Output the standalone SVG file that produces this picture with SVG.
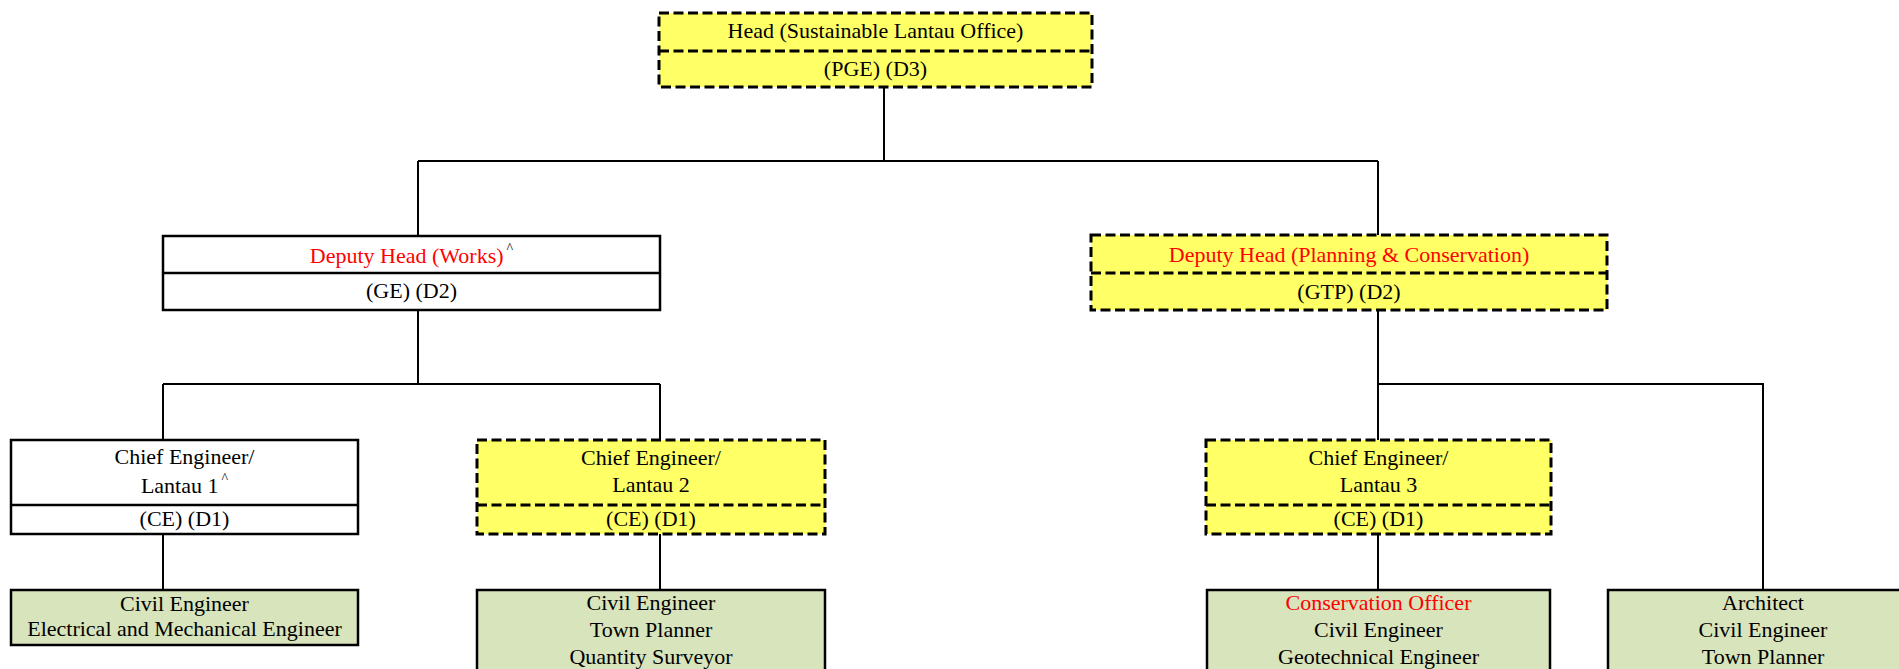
<svg xmlns="http://www.w3.org/2000/svg" width="1899" height="669" viewBox="0 0 1899 669">
<style>
  text { font-family: "Liberation Serif", "Times New Roman", serif; font-size: 22px; fill: #000; text-anchor: middle; }
  .red { fill: #FF0000; }
  .dash { fill: #FFFF66; stroke: #000; stroke-width: 3; stroke-dasharray: 10 4.5; }
  .dline { fill: none; stroke: #000; stroke-width: 3; stroke-dasharray: 10 4.5; }
  .solid { fill: #FFFFFF; stroke: #000; stroke-width: 2.5; }
  .sline { fill: none; stroke: #000; stroke-width: 2.5; }
  .green { fill: #D8E4BC; stroke: #000; stroke-width: 2.5; }
  .conn { fill: none; stroke: #000; stroke-width: 2; }
  .sup { font-size: 14px; }
</style>
<rect x="0" y="0" width="1899" height="669" fill="#FFFFFF"/>
<g id="connectors">
  <path class="conn" d="M884,87 V161 M418,161 H1378 M418,161 V236 M1378,161 V235"/>
  <path class="conn" d="M418,310 V384 M163,384 H660 M163,384 V440 M660,384 V440"/>
  <path class="conn" d="M163,534 V590 M660,534 V590"/>
  <path class="conn" d="M1378,310 V440 M1378,384 H1763 V590 M1378,534 V590"/>
</g>
<g id="head">
  <rect class="dash" x="659" y="13" width="433" height="74"/>
  <line class="dline" x1="659" y1="51" x2="1092" y2="51"/>
  <text x="875.5" y="38">Head (Sustainable Lantau Office)</text>
  <text x="875.5" y="76">(PGE) (D3)</text>
</g>
<g id="deputy-works">
  <rect class="solid" x="163" y="236" width="497" height="74"/>
  <line class="sline" x1="163" y1="273" x2="660" y2="273"/>
  <text x="411.5" y="263"><tspan class="red">Deputy Head (Works)</tspan><tspan class="sup" dx="3" dy="-10">^</tspan></text>
  <text x="411.5" y="298">(GE) (D2)</text>
</g>
<g id="deputy-planning">
  <rect class="dash" x="1091" y="235" width="516" height="75"/>
  <line class="dline" x1="1091" y1="273" x2="1607" y2="273"/>
  <text class="red" x="1349" y="262">Deputy Head (Planning &amp; Conservation)</text>
  <text x="1349" y="299">(GTP) (D2)</text>
</g>
<g id="ce-lantau1">
  <rect class="solid" x="11" y="440" width="347" height="94"/>
  <line class="sline" x1="11" y1="505" x2="358" y2="505"/>
  <text x="184.5" y="464">Chief Engineer/</text>
  <text x="184.5" y="493"><tspan>Lantau 1</tspan><tspan class="sup" dx="3" dy="-10">^</tspan></text>
  <text x="184.5" y="526">(CE) (D1)</text>
</g>
<g id="ce-lantau2">
  <rect class="dash" x="477" y="440" width="348" height="94"/>
  <line class="dline" x1="477" y1="505" x2="825" y2="505"/>
  <text x="651" y="465">Chief Engineer/</text>
  <text x="651" y="492">Lantau 2</text>
  <text x="651" y="526">(CE) (D1)</text>
</g>
<g id="ce-lantau3">
  <rect class="dash" x="1206" y="440" width="345" height="94"/>
  <line class="dline" x1="1206" y1="505" x2="1551" y2="505"/>
  <text x="1378.5" y="465">Chief Engineer/</text>
  <text x="1378.5" y="492">Lantau 3</text>
  <text x="1378.5" y="526">(CE) (D1)</text>
</g>
<g id="team-lantau1">
  <rect class="green" x="11" y="590" width="347" height="55"/>
  <text x="184.5" y="611">Civil Engineer</text>
  <text x="184.5" y="636">Electrical and Mechanical Engineer</text>
</g>
<g id="team-lantau2">
  <rect class="green" x="477" y="590" width="348" height="120"/>
  <text x="651" y="610">Civil Engineer</text>
  <text x="651" y="637">Town Planner</text>
  <text x="651" y="664">Quantity Surveyor</text>
</g>
<g id="team-lantau3">
  <rect class="green" x="1207" y="590" width="343" height="120"/>
  <text class="red" x="1378.5" y="610">Conservation Officer</text>
  <text x="1378.5" y="637">Civil Engineer</text>
  <text x="1378.5" y="664">Geotechnical Engineer</text>
</g>
<g id="team-planning">
  <rect class="green" x="1608" y="590" width="310" height="120"/>
  <text x="1763" y="610">Architect</text>
  <text x="1763" y="637">Civil Engineer</text>
  <text x="1763" y="664">Town Planner</text>
</g>
</svg>
